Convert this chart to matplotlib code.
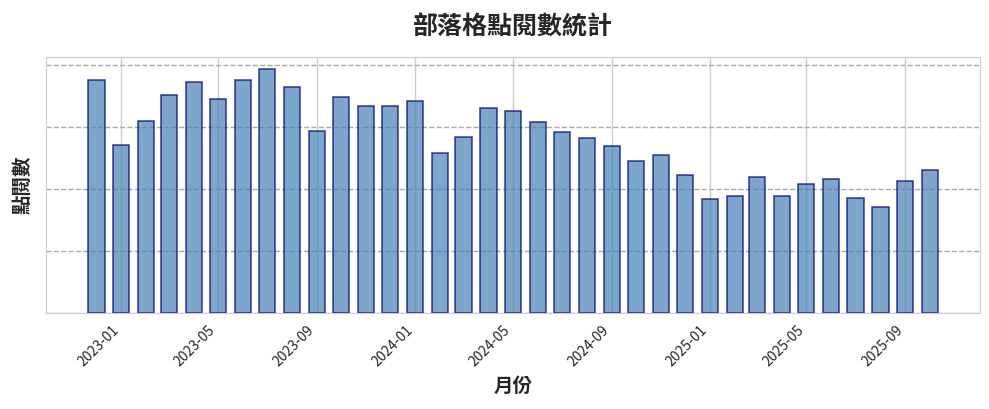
import matplotlib
matplotlib.use('Agg')
import matplotlib.pyplot as plt
import matplotlib.dates as mdates
import pandas as pd
import seaborn as sns

months = pd.date_range('2022-12-01', '2025-10-01', freq='MS')
views = [3753, 2705, 3092, 3511, 3721, 3447, 3753, 3931, 3640, 2931,
         3479, 3334, 3334, 3414, 2576, 2834, 3301, 3253, 3081, 2919,
         2823, 2688, 2447, 2543, 2226, 1834, 1882, 2188, 1882, 2081,
         2156, 1850, 1705, 2124, 2302]

sns.set_style('whitegrid')
plt.rcParams['font.family'] = ['Noto Sans CJK TC', 'DejaVu Sans']

fig, ax = plt.subplots(figsize=(9.89, 4.09), dpi=100)
fig.subplots_adjust(left=0.0465, right=0.991, top=0.8606, bottom=0.2347)

ax.bar(months, views, width=20, color='steelblue', alpha=0.7,
       edgecolor='navy', linewidth=1.2)

ax.set_title('部落格點閱數統計', fontsize=18, fontweight='bold', pad=16)
ax.set_xlabel('月份', fontsize=14, fontweight='bold', labelpad=6)
ax.set_ylabel('點閱數', fontsize=14, fontweight='bold', labelpad=6)

ax.xaxis.set_major_locator(mdates.MonthLocator(bymonth=[1, 5, 9]))
ax.xaxis.set_major_formatter(mdates.DateFormatter('%Y-%m'))
plt.setp(ax.get_xticklabels(), rotation=45, ha='right', fontsize=10)
ax.set_yticks([0, 1000, 2000, 3000, 4000])
ax.set_yticklabels([])
ax.tick_params(axis='y', length=0)

ax.grid(axis='x', color='#cccccc', linestyle='-', linewidth=1)
ax.grid(axis='y', color='#aaaaaa', linestyle='--', linewidth=1)
for s in ax.spines.values():
    s.set_color('#cccccc')

fig.savefig('out.png', dpi=100)
